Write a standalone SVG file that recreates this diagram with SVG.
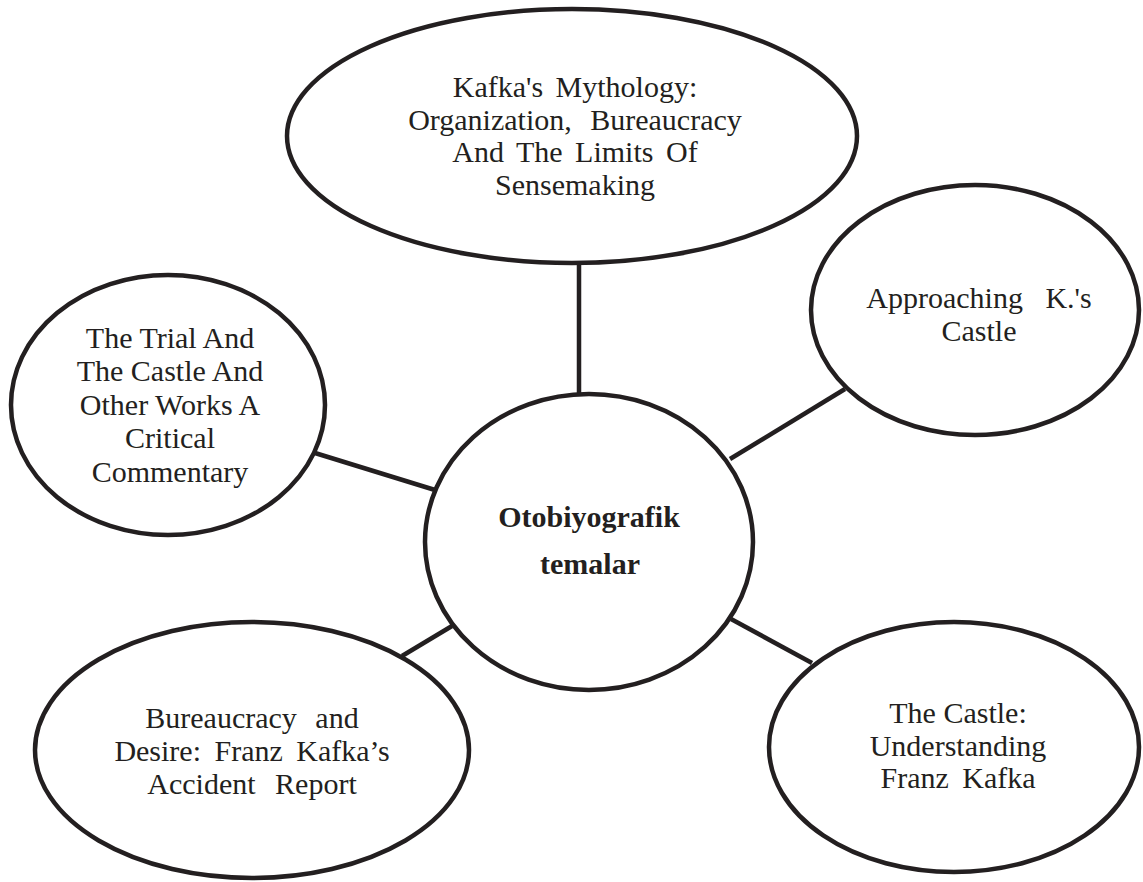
<svg xmlns="http://www.w3.org/2000/svg" width="1143" height="882" viewBox="0 0 1143 882">
<style>
.n{fill:#fff;stroke:#231f20;stroke-width:4.5}
.c line{stroke:#231f20;stroke-width:4.5}
text{font-family:"Liberation Serif","Times New Roman",serif;font-size:30px;fill:#231f20;text-anchor:middle}
.b{font-weight:bold}
</style>
<rect width="1143" height="882" fill="#fff"/>
<g id="connectors" class="c">
<line x1="579" y1="262" x2="579" y2="396"/>
<line x1="730" y1="459" x2="845" y2="389"/>
<line x1="315" y1="453" x2="435" y2="490"/>
<line x1="402" y1="656" x2="452" y2="626"/>
<line x1="731" y1="619" x2="812" y2="663"/>
</g>
<g id="n-top">
<ellipse class="n" cx="572" cy="136" rx="285" ry="127"/>
<text x="575" y="97" word-spacing="5">Kafka's Mythology:</text>
<text x="575" y="130" word-spacing="11">Organization, Bureaucracy</text>
<text x="575" y="162" word-spacing="5">And The Limits Of</text>
<text x="575" y="195">Sensemaking</text>
</g>
<g id="n-right">
<ellipse class="n" cx="975" cy="310" rx="164" ry="125"/>
<text x="979" y="308" word-spacing="15">Approaching K.'s</text>
<text x="979" y="341">Castle</text>
</g>
<g id="n-left">
<ellipse class="n" cx="168" cy="405" rx="157" ry="130"/>
<text x="170" y="348">The Trial And</text>
<text x="170" y="381">The Castle And</text>
<text x="170" y="415">Other Works A</text>
<text x="170" y="448">Critical</text>
<text x="170" y="482">Commentary</text>
</g>
<g id="n-center">
<ellipse class="n" cx="589" cy="542" rx="164" ry="148"/>
<text class="b" x="589" y="527">Otobiyografik</text>
<text class="b" x="590" y="574">temalar</text>
</g>
<g id="n-bottomleft">
<ellipse class="n" cx="252" cy="750" rx="217" ry="128"/>
<text x="252" y="728" word-spacing="11">Bureaucracy and</text>
<text x="252" y="761" word-spacing="6">Desire: Franz Kafka’s</text>
<text x="252" y="794" word-spacing="12">Accident Report</text>
</g>
<g id="n-bottomright">
<ellipse class="n" cx="954" cy="747" rx="185" ry="125"/>
<text x="958" y="723">The Castle:</text>
<text x="958" y="756">Understanding</text>
<text x="958" y="788" word-spacing="6">Franz Kafka</text>
</g>
</svg>
